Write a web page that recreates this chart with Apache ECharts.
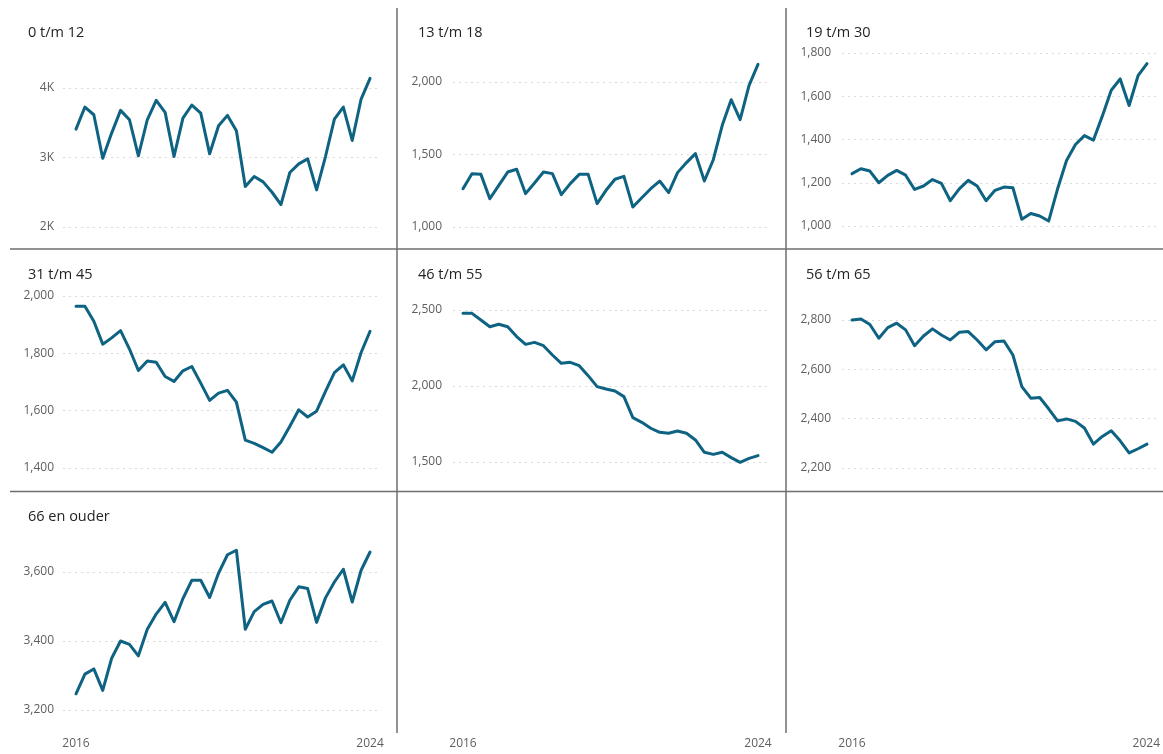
<!DOCTYPE html>
<html>
<head>
<meta charset="utf-8">
<script src="https://cdn.jsdelivr.net/npm/echarts@6/dist/echarts.min.js"></script>
<style>
html,body{margin:0;padding:0;background:#fff;}
#c{width:1163px;height:754px;}
</style>
</head>
<body>
<div id="c"></div>
<script>
// ---- Data (quarterly, 2016 Q1 .. 2024 Q2) ----
const xLabels = ['2016', '2024'];
const titles = ['0 t/m 12', '13 t/m 18', '19 t/m 30', '31 t/m 45', '46 t/m 55', '56 t/m 65', '66 en ouder'];

const s0_12 = [3409,3726,3615,2990,3351,3678,3543,3024,3543,3822,3649,3014,3567,3755,3639,3053,3457,3606,3385,2582,2726,2649,2500,2322,2784,2909,2981,2534,3014,3553,3726,3245,3841,4139];
const s13_18 = [1264,1368,1363,1195,1287,1379,1398,1230,1303,1379,1368,1223,1299,1363,1363,1161,1253,1329,1349,1138,1202,1264,1317,1237,1375,1444,1506,1317,1464,1701,1878,1740,1977,2122];
const s19_30 = [1242,1265,1254,1200,1234,1257,1235,1169,1185,1215,1197,1117,1172,1211,1185,1117,1165,1180,1177,1031,1058,1046,1023,1172,1303,1377,1418,1397,1508,1628,1680,1557,1695,1751];
const s31_45 = [1964,1964,1912,1832,1854,1879,1815,1740,1773,1769,1719,1702,1739,1754,1696,1636,1661,1671,1630,1497,1486,1471,1455,1491,1546,1603,1578,1598,1667,1733,1760,1704,1803,1877];
const s46_55 = [2478,2478,2434,2390,2406,2390,2325,2274,2287,2265,2204,2149,2156,2134,2068,1996,1980,1967,1930,1792,1761,1722,1695,1689,1704,1689,1645,1564,1550,1564,1529,1498,1524,1542];
const s56_65 = [2800,2804,2782,2726,2769,2787,2760,2696,2735,2764,2739,2719,2750,2753,2719,2679,2712,2715,2658,2530,2483,2486,2440,2391,2399,2389,2362,2297,2328,2351,2310,2261,2278,2297];
const s66plus = [3247,3304,3319,3257,3350,3400,3390,3357,3434,3478,3512,3456,3523,3576,3576,3526,3597,3650,3663,3434,3485,3506,3516,3453,3518,3557,3552,3454,3525,3571,3608,3513,3605,3658];

const seriesData = [s0_12, s13_18, s19_30, s31_45, s46_55, s56_65, s66plus];

// y-axis tick settings per panel
const yMin = [2000, 1000, 1000, 1400, 1500, 2200, 3200];
const yMax = [4000, 2000, 1800, 2000, 2500, 2800, 3600];
const yStep = [1000, 500, 200, 200, 500, 200, 200];

// ---- Layout ----
const cols = [
  {left: 63, width: 318, xmin: -1.46, xmax: 34.23, titleX: 28, labelMargin: 9},
  {left: 453, width: 316, xmin: -1.12, xmax: 34.23, titleX: 418, labelMargin: 11},
  {left: 842, width: 315, xmin: -1.12, xmax: 34.12, titleX: 806, labelMargin: 11}
];
const panelY = [
  {top: 88, height: 139, titleY: 32},
  {top: 82, height: 145, titleY: 32},
  {top: 53, height: 173, titleY: 32},
  {top: 296, height: 172, titleY: 274},
  {top: 310, height: 152, titleY: 274},
  {top: 320, height: 148, titleY: 274},
  {top: 572, height: 138, titleY: 516}
];

const lineColor = '#0E6282';
const fontFam = '"Open Sans", "Noto Sans", sans-serif';

const grids = [], xAxes = [], yAxes = [], series = [], titleOpts = [];

function yLabelFmt(i) {
  return function (v) {
    if (i === 0) return (v / 1000) + 'K';
    return v.toLocaleString('en-US');
  };
}

for (let i = 0; i < 9; i++) {
  const col = cols[i % 3];
  const row = Math.floor(i / 3);
  const hasData = i < 7;
  const py = hasData ? panelY[i] : {top: 572, height: 138};
  grids.push({left: col.left, top: py.top, width: col.width, height: py.height, containLabel: false});
  const bottomRow = (row === 2);
  xAxes.push({
    type: 'value', gridIndex: i, min: col.xmin, max: col.xmax,
    axisLine: {show: false}, axisTick: {show: false}, splitLine: {show: false},
    axisLabel: {
      show: bottomRow,
      customValues: [0, 33],
      formatter: function (v) { return v === 0 ? xLabels[0] : xLabels[1]; },
      color: '#605E5C', fontSize: 12, fontFamily: fontFam, margin: 28
    }
  });
  if (hasData) {
    yAxes.push({
      type: 'value', gridIndex: i, min: yMin[i], max: yMax[i], interval: yStep[i],
      axisLine: {show: false}, axisTick: {show: false},
      splitLine: {show: true, lineStyle: {color: '#DADADA', type: [2, 4], width: 1}},
      axisLabel: {color: '#605E5C', fontSize: 12, fontFamily: fontFam, margin: col.labelMargin, formatter: yLabelFmt(i)}
    });
    series.push({
      type: 'line', xAxisIndex: i, yAxisIndex: i,
      data: seriesData[i].map((v, k) => [k, v]),
      showSymbol: false, symbol: 'none', clip: false,
      lineStyle: {color: lineColor, width: 3, join: 'round', cap: 'round'},
      animation: false
    });
    titleOpts.push({
      text: titles[i], left: col.titleX, top: py.titleY - 7, padding: 0,
      textStyle: {fontSize: 14.5, fontWeight: 'normal', color: '#252423', fontFamily: fontFam}
    });
  } else {
    yAxes.push({
      type: 'value', gridIndex: i, min: 0, max: 1, show: false, splitLine: {show: false}
    });
  }
}

const sepColor = '#6E6E6E';
const graphic = [
  {type: 'line', shape: {x1: 10, y1: 249, x2: 1163, y2: 249}, style: {stroke: sepColor, lineWidth: 1.5}},
  {type: 'line', shape: {x1: 10, y1: 491.5, x2: 1163, y2: 491.5}, style: {stroke: sepColor, lineWidth: 1.5}},
  {type: 'line', shape: {x1: 397, y1: 8, x2: 397, y2: 733}, style: {stroke: sepColor, lineWidth: 1.5}},
  {type: 'line', shape: {x1: 786, y1: 8, x2: 786, y2: 733}, style: {stroke: sepColor, lineWidth: 1.5}}
];

const chart = echarts.init(document.getElementById('c'), null, {renderer: 'canvas'});
chart.setOption({
  animation: false,
  backgroundColor: '#ffffff',
  title: titleOpts,
  grid: grids,
  xAxis: xAxes,
  yAxis: yAxes,
  series: series,
  graphic: graphic
});
</script>
</body>
</html>
